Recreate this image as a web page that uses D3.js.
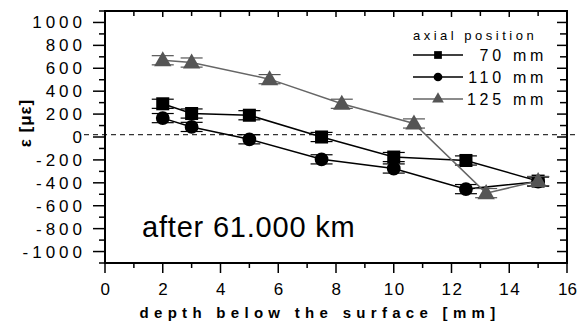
<!DOCTYPE html>
<html>
<head>
<meta charset="utf-8">
<script src="https://cdn.jsdelivr.net/npm/d3@7"></script>
<style>
  body { margin: 0; background: #fff; }
  text { font-family: "Liberation Sans", Arial, sans-serif; fill: #000; }
</style>
</head>
<body>
<div id="chart"></div>
<script>
// strain vs depth, three axial positions
const depth70 = [2, 3, 5, 7.5, 10, 12.5, 15];
const strain70 = [290, 205, 190, 0, -175, -205, -385];

const depth110 = [2, 3, 5, 7.5, 10, 12.5, 15];
const strain110 = [165, 88, -20, -195, -275, -455, -390];

const depth125 = [2, 3, 5.7, 8.2, 10.7, 13.2, 15];
const strain125 = [670, 650, 505, 290, 118, -490, -385];

const errBar = 40;
const refLine = 20;

const xTicks = [0, 2, 4, 6, 8, 10, 12, 14, 16];
const yTicks = [1000, 800, 600, 400, 200, 0, -200, -400, -600, -800, -1000];
const legendTitle = 'axial position';
const legendLabels = ['70 mm', '110 mm', '125 mm'];

const W = 577, H = 322;
const margin = { top: 11, right: 10, bottom: 59, left: 105 };

const svg = d3.select('#chart').append('svg')
  .attr('width', W).attr('height', H);

const x = d3.scaleLinear().domain([0, 16]).range([margin.left, W - margin.right]);
const y = d3.scaleLinear().domain([-1100, 1100]).range([H - margin.bottom, margin.top]);

const minorX = d3.range(0, 17, 1);
const minorY = d3.range(-1100, 1101, 100);

// ticks
const g = svg.append('g').attr('stroke', '#000').attr('stroke-width', 1.5);
minorX.forEach(v => {
  const major = v % 2 === 0;
  g.append('line').attr('x1', x(v)).attr('x2', x(v))
    .attr('y1', y(-1100)).attr('y2', y(-1100) + (major ? 10 : 5));
  g.append('line').attr('x1', x(v)).attr('x2', x(v))
    .attr('y1', y(1100)).attr('y2', y(1100) + (major ? 6 : 5));
});
minorY.forEach(v => {
  const major = v % 200 === 0;
  g.append('line').attr('y1', y(v)).attr('y2', y(v))
    .attr('x1', x(0)).attr('x2', x(0) - (major ? 12 : 6));
  g.append('line').attr('y1', y(v)).attr('y2', y(v))
    .attr('x1', x(16)).attr('x2', x(16) - (major ? 10 : 7));
});

// frame
svg.append('rect')
  .attr('x', x(0)).attr('y', y(1100))
  .attr('width', x(16) - x(0)).attr('height', y(-1100) - y(1100))
  .attr('fill', 'none').attr('stroke', '#000').attr('stroke-width', 2);

// tick labels (last one pinned to the edge so it is not clipped)
svg.append('g').selectAll('text').data(xTicks).join('text')
  .attr('x', d => d === 16 ? W : x(d) + 1).attr('y', 294.5)
  .attr('text-anchor', d => d === 16 ? 'end' : 'middle')
  .style('font-size', '17px').style('letter-spacing', d => d === 16 ? '0px' : '1.5px')
  .text(d => d);

svg.append('g').selectAll('text').data(yTicks).join('text')
  .attr('x', 86).attr('y', d => y(d) + 6)
  .attr('text-anchor', 'end')
  .style('font-size', '17px').style('letter-spacing', '4px')
  .text(d => d);

// axis titles
svg.append('text')
  .attr('x', 320).attr('y', 318)
  .attr('text-anchor', 'middle')
  .style('font-size', '15px').style('font-weight', 'bold').style('letter-spacing', '5.3px')
  .text('depth below the surface [mm]');

svg.append('text')
  .attr('transform', 'translate(31,123) rotate(-90)')
  .attr('text-anchor', 'middle')
  .style('font-size', '17px').style('font-weight', 'bold').style('letter-spacing', '1px')
  .text('ε [με]');

// reference line
svg.append('line')
  .attr('x1', 84).attr('x2', x(16) + 8)
  .attr('y1', y(refLine)).attr('y2', y(refLine))
  .attr('stroke', '#000').attr('stroke-width', 1).attr('stroke-dasharray', '5,4');

const series = [
  { xs: depth70, ys: strain70, color: '#000', shape: d3.symbolSquare, size: 170 },
  { xs: depth110, ys: strain110, color: '#000', shape: d3.symbolCircle, size: 150 },
  { xs: depth125, ys: strain125, color: '#555', shape: d3.symbolTriangle, size: 130 }
];

const line = d3.line().x(d => x(d[0])).y(d => y(d[1]));

series.forEach(s => {
  const pts = s.xs.map((v, i) => [v, s.ys[i]]);
  const sg = svg.append('g');
  sg.append('path').datum(pts).attr('d', line)
    .attr('fill', 'none').attr('stroke', s.color === '#000' ? '#000' : '#666').attr('stroke-width', 1.5);
  // error bars
  pts.forEach(p => {
    const cx = x(p[0]);
    sg.append('line').attr('x1', cx).attr('x2', cx)
      .attr('y1', y(p[1] + errBar)).attr('y2', y(p[1] - errBar))
      .attr('stroke', s.color).attr('stroke-width', 1.2);
    [errBar, -errBar].forEach(e => {
      sg.append('line').attr('x1', cx - 11).attr('x2', cx + 11)
        .attr('y1', y(p[1] + e)).attr('y2', y(p[1] + e))
        .attr('stroke', s.color).attr('stroke-width', 1.2);
    });
  });
  sg.selectAll('path.m').data(pts).join('path').attr('class', 'm')
    .attr('transform', d => `translate(${x(d[0])},${y(d[1]) - (s.shape === d3.symbolTriangle ? -1 : 0)})`)
    .attr('d', d3.symbol().type(s.shape).size(s.size))
    .attr('fill', s.color);
});

// legend
const lg = svg.append('g');
lg.append('text').attr('x', 413).attr('y', 40)
  .style('font-size', '13px').style('letter-spacing', '3.5px')
  .text(legendTitle);
series.forEach((s, i) => {
  const ly = 55 + i * 22;
  lg.append('line').attr('x1', 413).attr('x2', 463).attr('y1', ly).attr('y2', ly)
    .attr('stroke', s.color === '#000' ? '#000' : '#666').attr('stroke-width', 1.5);
  lg.append('path').attr('transform', `translate(438,${ly})`)
    .attr('d', d3.symbol().type(s.shape).size(60)).attr('fill', s.color);
  lg.append('text').attr('x', 547).attr('y', ly + 6)
    .attr('text-anchor', 'end')
    .style('font-size', '16px').style('letter-spacing', '3.7px')
    .text(legendLabels[i]);
});

// annotation
svg.append('text').attr('x', 142).attr('y', 236.5)
  .style('font-size', '29px').style('letter-spacing', '0.8px')
  .text('after 61.000 km');
</script>
</body>
</html>
